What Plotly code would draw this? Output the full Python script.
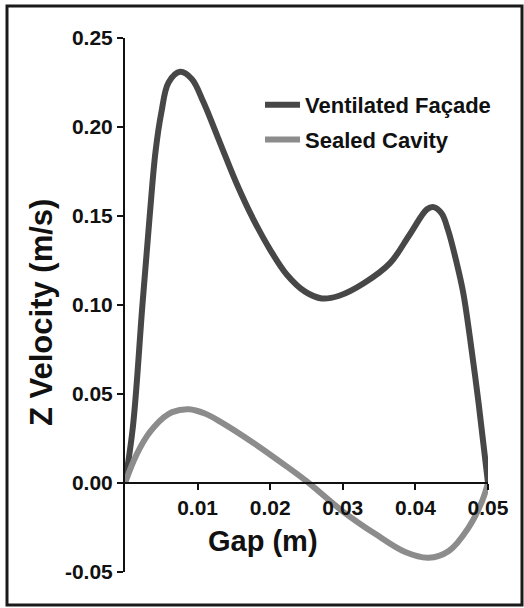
import plotly.graph_objects as go

# ---- data ----
gap_vent = [0.0, 0.0011, 0.0024, 0.0034, 0.0042, 0.0050, 0.0060, 0.0076, 0.0092,
            0.0108, 0.0131, 0.0154, 0.0177, 0.0200, 0.0223, 0.0248, 0.0271, 0.0295,
            0.0330, 0.0365, 0.0392, 0.0416, 0.0425, 0.0436, 0.0445,
            0.0457, 0.0466, 0.0478, 0.0487, 0.0500]
vel_vent = [0.0, 0.032, 0.100, 0.150, 0.186, 0.208, 0.225, 0.231, 0.227,
            0.214, 0.191, 0.168, 0.148, 0.131, 0.117, 0.1075, 0.1037, 0.1052,
            0.1125, 0.1235, 0.1395, 0.1538, 0.1550, 0.1515, 0.1421,
            0.1234, 0.1066, 0.073, 0.045, 0.0]

gap_seal = [0.0, 0.0012, 0.0021, 0.0030, 0.0040, 0.0053, 0.0065, 0.0088, 0.0110,
            0.0131, 0.0177, 0.0223, 0.0250, 0.0299, 0.0345, 0.0386, 0.0418, 0.0446,
            0.0473, 0.0492, 0.0500]
vel_seal = [0.0, 0.0125, 0.0200, 0.0262, 0.0315, 0.0367, 0.0398, 0.0414, 0.0390,
            0.0345, 0.0225, 0.0092, 0.0010, -0.0156, -0.0287, -0.0388, -0.0420, -0.0382,
            -0.0252, -0.0100, 0.0]

series_names = ["Ventilated Façade", "Sealed Cavity"]
series_colors = ["#474747", "#8c8c8c"]

x_ticks = [0.01, 0.02, 0.03, 0.04, 0.05]
y_ticks = [-0.05, 0.00, 0.05, 0.10, 0.15, 0.20, 0.25]
x_range = [0.0, 0.05]
y_range = [-0.05, 0.25]

# ---- layout geometry ----
W, H = 524, 608
ML, MR, MT, MB = 125, 36, 38, 36
PW, PH = W - ML - MR, H - MT - MB
FONT = "Liberation Sans, Arial, Helvetica, sans-serif"
INK = "#111111"

fig = go.Figure()
for gx, vy, name, col in [(gap_vent, vel_vent, series_names[0], series_colors[0]),
                          (gap_seal, vel_seal, series_names[1], series_colors[1])]:
    fig.add_trace(go.Scatter(x=gx, y=vy, mode="lines", name=name,
                             legendgroup=name,
                             line=dict(color=col, width=6, shape="spline", smoothing=1.0)))

xpos = (0 - y_range[0]) / (y_range[1] - y_range[0])


def px2paper_x(p):
    return (p - ML) / PW


def px2paper_y(p):
    return (H - MB - p) / PH


fig.update_layout(
    width=W, height=H,
    margin=dict(l=ML, r=MR, t=MT, b=MB, autoexpand=False),
    paper_bgcolor="white", plot_bgcolor="white",
    font=dict(family=FONT, color=INK),
    showlegend=True,
    legend=dict(x=px2paper_x(260), y=px2paper_y(84), xanchor="left", yanchor="top",
                bgcolor="rgba(0,0,0,0)", font=dict(size=22, weight="bold", color=INK),
                traceorder="grouped", tracegroupgap=3, itemwidth=35),
    xaxis=dict(range=x_range, tickvals=x_ticks, ticktext=[f"{v:.2f}" for v in x_ticks],
               ticks="outside", ticklen=6, tickwidth=2, tickcolor=INK,
               showline=True, linewidth=2, linecolor=INK,
               showgrid=False, zeroline=False, anchor="free", position=xpos,
               tickfont=dict(size=21, weight="bold", color=INK)),
    yaxis=dict(range=y_range, tickvals=y_ticks, ticktext=[f"{v:.2f}" for v in y_ticks],
               ticks="outside", ticklen=6, tickwidth=2, tickcolor=INK,
               showline=True, linewidth=2, linecolor=INK,
               showgrid=False, zeroline=False,
               tickfont=dict(size=21, weight="bold", color=INK)),
    annotations=[
        dict(text="Gap (m)", xref="paper", yref="paper",
             x=px2paper_x(263), y=px2paper_y(541), xanchor="center", yanchor="middle",
             showarrow=False, font=dict(size=29, weight="bold", color=INK)),
        dict(text="Z Velocity (m/s)", xref="paper", yref="paper", textangle=-90,
             x=px2paper_x(41), y=px2paper_y(313), xanchor="center", yanchor="middle",
             showarrow=False, font=dict(size=31, weight="bold", color=INK)),
    ],
    shapes=[dict(type="rect", xref="paper", yref="paper",
                 x0=px2paper_x(7), x1=px2paper_x(522), y0=px2paper_y(605), y1=px2paper_y(6),
                 line=dict(color="#1a1a1a", width=3), fillcolor="rgba(0,0,0,0)", layer="below")],
)

fig.write_html("out.html", config={"displayModeBar": False},
               post_script="document.body.style.margin='0';document.body.style.padding='0';")
